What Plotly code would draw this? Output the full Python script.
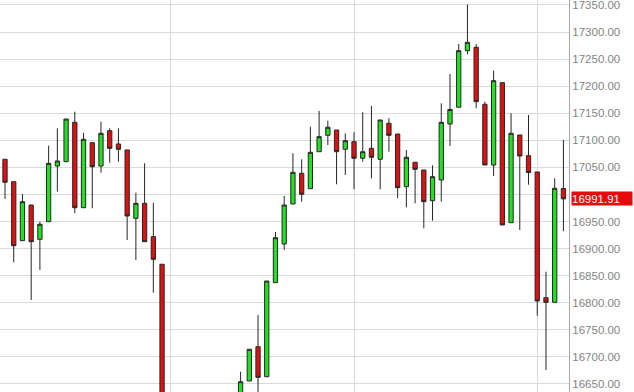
import plotly.graph_objects as go

# All trading sessions in view (Aug 1 - Aug 12 fall below the visible price range)
sessions = [
    "2014-07-07", "2014-07-08", "2014-07-09", "2014-07-10", "2014-07-11",
    "2014-07-14", "2014-07-15", "2014-07-16", "2014-07-17", "2014-07-18",
    "2014-07-21", "2014-07-22", "2014-07-23", "2014-07-24", "2014-07-25",
    "2014-07-28", "2014-07-29", "2014-07-30", "2014-07-31",
    "2014-08-01", "2014-08-04", "2014-08-05", "2014-08-06", "2014-08-07",
    "2014-08-08", "2014-08-11", "2014-08-12",
    "2014-08-13", "2014-08-14", "2014-08-15", "2014-08-18", "2014-08-19",
    "2014-08-20", "2014-08-21", "2014-08-22", "2014-08-25", "2014-08-26",
    "2014-08-27", "2014-08-28", "2014-08-29",
    "2014-09-02", "2014-09-03", "2014-09-04", "2014-09-05", "2014-09-08",
    "2014-09-09", "2014-09-10", "2014-09-11", "2014-09-12", "2014-09-15",
    "2014-09-16", "2014-09-17", "2014-09-18", "2014-09-19", "2014-09-22",
    "2014-09-23", "2014-09-24", "2014-09-25", "2014-09-26", "2014-09-29",
    "2014-09-30",
    "2014-10-01", "2014-10-02", "2014-10-03", "2014-10-06",
]

month_starts = ["2014-08-01", "2014-09-02", "2014-10-01"]

dates = [
    "2014-07-07", "2014-07-08", "2014-07-09", "2014-07-10", "2014-07-11",
    "2014-07-14", "2014-07-15", "2014-07-16", "2014-07-17", "2014-07-18",
    "2014-07-21", "2014-07-22", "2014-07-23", "2014-07-24", "2014-07-25",
    "2014-07-28", "2014-07-29", "2014-07-30", "2014-07-31",
    "2014-08-13", "2014-08-14", "2014-08-15", "2014-08-18", "2014-08-19",
    "2014-08-20", "2014-08-21", "2014-08-22", "2014-08-25", "2014-08-26",
    "2014-08-27", "2014-08-28", "2014-08-29",
    "2014-09-02", "2014-09-03", "2014-09-04", "2014-09-05", "2014-09-08",
    "2014-09-09", "2014-09-10", "2014-09-11", "2014-09-12", "2014-09-15",
    "2014-09-16", "2014-09-17", "2014-09-18", "2014-09-19", "2014-09-22",
    "2014-09-23", "2014-09-24", "2014-09-25", "2014-09-26", "2014-09-29",
    "2014-09-30",
    "2014-10-01", "2014-10-02", "2014-10-03", "2014-10-06",
]

opens = [
    17065.0, 17023.6, 16914.7, 16980.6, 16917.2,
    16949.8, 17052.6, 17060.6, 17133.3, 16975.6,
    17095.7, 17052.6, 17117.8, 17093.3, 17082.2,
    16956.0, 16983.7, 16922.1, 16871.1,
    16565.0, 16655.5, 16718.9, 16663.5, 16837.1,
    16908.6, 16982.4, 17039.1, 17010.7, 17079.0,
    17109.3, 17119.1, 17083.5,
    17097.5, 17066.9, 17085.3, 17065.0, 17131.5,
    17111.7, 17014.4, 17059.5, 17045.2, 16988.5,
    17026.8, 17130.2, 17161.1, 17265.6, 17271.9,
    17166.6, 17054.5, 17206.5, 16947.9, 17109.9,
    17071.7,
    17041.6, 16809.4, 16800.9, 17011.0,
]

highs = [
    17065.0, 17023.6, 17000.9, 16980.6, 16949.8,
    17090.1, 17122.3, 17139.4, 17152.9, 17114.1,
    17095.7, 17134.5, 17122.3, 17122.3, 17082.2,
    17003.3, 17057.6, 16984.8, 16871.1,
    16672.7, 16714.1, 16777.4, 16840.2, 16930.7,
    16997.2, 17076.1, 17065.0, 17125.2, 17154.2,
    17136.3, 17119.1, 17113.0,
    17114.9, 17151.8, 17163.5, 17137.6, 17140.7,
    17111.7, 17082.2, 17059.5, 17045.2, 17053.9,
    17168.4, 17222.6, 17278.0, 17351.0, 17278.0,
    17171.4, 17228.7, 17206.5, 17150.0, 17109.9,
    17146.8,
    17041.6, 16857.4, 17029.9, 17100.7,
]

lows = [
    16991.7, 16874.8, 16914.7, 16805.1, 16860.5,
    16949.8, 17005.2, 17060.6, 16965.3, 16975.6,
    16974.5, 17040.3, 17058.7, 17060.6, 16916.0,
    16879.0, 16912.8, 16818.6, 16563.0,
    16560.0, 16655.5, 16600.0, 16663.5, 16837.1,
    16897.5, 16982.4, 16986.7, 17010.7, 17079.0,
    17091.4, 17018.8, 17036.0,
    17009.6, 17060.6, 17029.9, 17009.6, 17079.0,
    16993.0, 16976.3, 16983.7, 16937.6, 16951.6,
    16986.7, 17089.6, 17161.1, 17258.9, 17159.2,
    17054.5, 17034.2, 16943.7, 16947.9, 16934.4,
    17018.1,
    16776.1, 16675.8, 16800.9, 16932.0,
]

closes = [
    17022.5, 16905.4, 16986.7, 16912.8, 16945.0,
    17057.6, 17061.9, 17139.4, 16975.6, 17101.9,
    17051.3, 17113.0, 17085.3, 17083.5, 16960.3,
    16983.7, 16912.8, 16880.3, 16563.0,
    16654.2, 16714.1, 16662.4, 16840.2, 16920.2,
    16980.6, 17041.0, 17000.4, 17077.9, 17106.8,
    17124.1, 17079.0, 17099.4,
    17066.9, 17079.0, 17068.7, 17137.6, 17109.3,
    17012.6, 17068.7, 17046.5, 16986.7, 17032.9,
    17133.3, 17157.0, 17265.6, 17281.1, 17171.4,
    17054.5, 17210.2, 16943.7, 17113.0, 17071.1,
    17040.6,
    16803.3, 16800.9, 17011.4, 16991.91,
]

y_ticks = [16650, 16700, 16750, 16800, 16850, 16900, 16950, 17000,
           17050, 17100, 17150, 17200, 17250, 17300, 17350]
last_price = 16991.91

# the 17000.00 label sits under the last-price badge in the reference
y_ticktext = ["" if abs(v - last_price) < 25 else f"{v:.2f}" for v in y_ticks]

fig = go.Figure()
fig.add_trace(go.Candlestick(
    x=dates, open=opens, high=highs, low=lows, close=closes,
    increasing=dict(line=dict(color="#262626", width=1), fillcolor="#22e022"),
    decreasing=dict(line=dict(color="#262626", width=1), fillcolor="#e01010"),
    whiskerwidth=0,
    hoverinfo="skip",
    showlegend=False,
))

fig.add_annotation(
    x=1, xref="paper", y=last_price, yref="y",
    xanchor="left", yanchor="middle", xshift=2,
    text=f"{last_price:.2f}", showarrow=False,
    font=dict(family="Liberation Sans, Arial, sans-serif", size=11.5, color="white"),
    bgcolor="#e80a0a", borderpad=0, width=60, height=13, align="left",
)

fig.update_layout(
    width=634, height=392,
    margin=dict(l=0, r=65, t=0, b=0),
    paper_bgcolor="white", plot_bgcolor="white",
    font=dict(family="Liberation Sans, Arial, sans-serif", size=11.5, color="#858585"),
    xaxis=dict(
        type="category", categoryorder="array", categoryarray=sessions,
        range=[-0.573, 64.64],
        rangeslider=dict(visible=False),
        tickmode="array", tickvals=month_starts, showticklabels=False,
        showgrid=True, gridcolor="#dadada", gridwidth=1,
        zeroline=False, showline=False, ticks="",
        fixedrange=True,
    ),
    yaxis=dict(
        side="right", range=[16635.2, 17359.2],
        tickmode="array", tickvals=y_ticks, ticktext=y_ticktext,
        ticklabeloverflow="allow",
        showgrid=True, gridcolor="#dadada", gridwidth=1,
        showline=True, linecolor="#a8a8a8", linewidth=1,
        ticks="", zeroline=False, fixedrange=True,
    ),
)

fig.write_html("out.html")
